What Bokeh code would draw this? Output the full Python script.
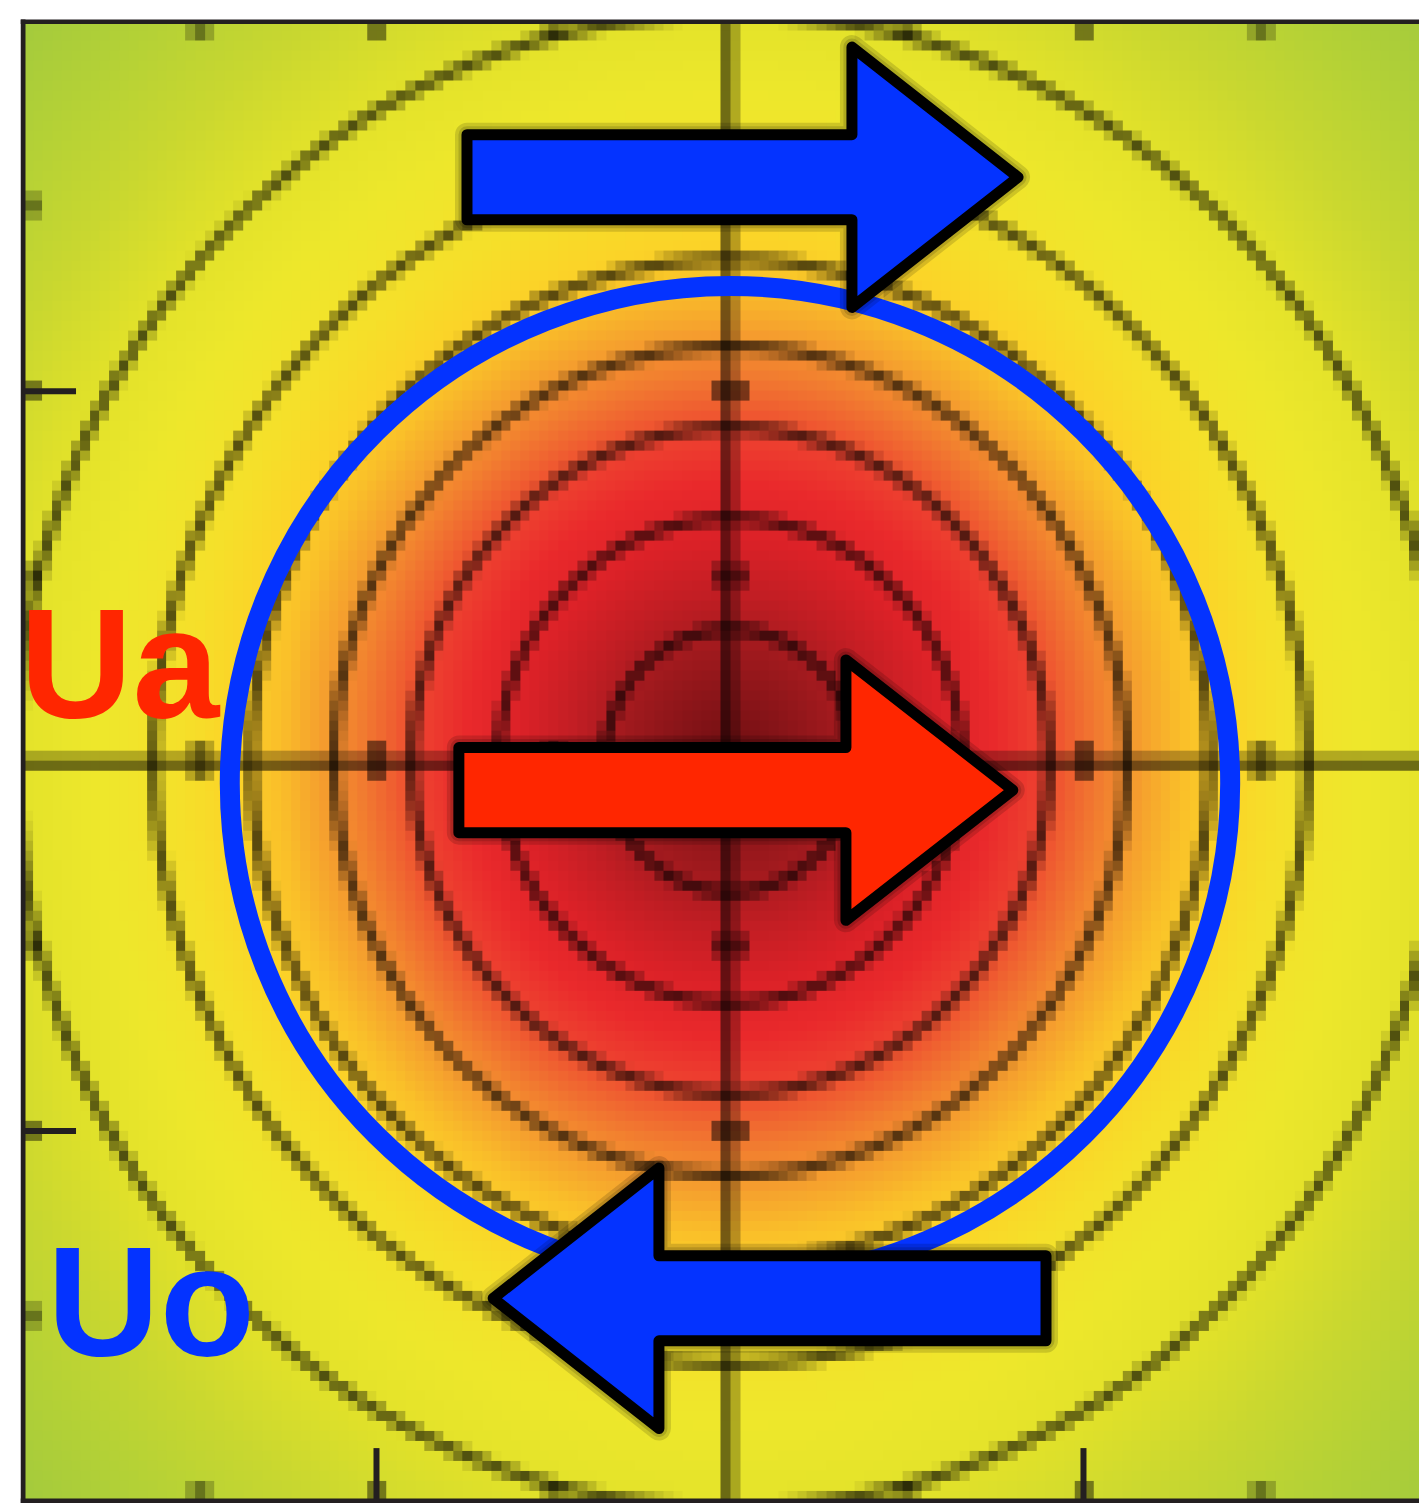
import numpy as np
from bokeh.plotting import figure
from bokeh.models import Range1d
from bokeh.core.properties import value
from bokeh.embed import file_html
from bokeh.resources import INLINE

# Radial colour stops of the field (radius in axis units -> colour)
field_radius = [0.0, 0.15, 0.30, 0.45, 0.60, 0.75, 0.88, 0.97, 1.05, 1.17,
                1.28, 1.40, 1.55, 1.80, 2.05, 2.30, 2.55, 2.85]
field_color = ["#6e0e10", "#861418", "#a01a1e", "#c21e24", "#dc2228", "#ea2a2c",
               "#ee4230", "#f06430", "#f27e30", "#f6a22e", "#fac02a", "#fcd428",
               "#f6e02a", "#eee82c", "#e2e22a", "#cad830", "#b6d236", "#a2ca3e"]

# Contour radii of the field
contour_radius = [0.355, 0.655, 0.90, 1.12, 1.355, 1.63, 2.02]

# Tick positions drawn into the raster, and the frame's major ticks
raster_ticks = [-1.5, -1.0, -0.5, 0.5, 1.0, 1.5]
major_ticks = [-1.0, 1.0]

# Circulation ring (centre, full width, full height)
ring_x = [0.0]
ring_y = [-0.06]
ring_w = [2.83]
ring_h = [2.69]

# Flow arrows: tail x, head-base x, tip x, centre y
arrow_tail = [-0.744, -0.767, 0.894]
arrow_base = [0.345, 0.328, -0.201]
arrow_tip = [0.815, 0.800, -0.670]
arrow_y = [1.579, -0.078, -1.452]
arrow_color = ["#0433ff", "#ff2600", "#0433ff"]

# Labels
label_text = ["Ua", "Uo"]
label_x = [-1.727, -1.638]
label_y = [0.266, -1.459]
label_color = ["#ff2600", "#0433ff"]

SHAFT_HALF = 0.115
HEAD_HALF = 0.352
TICK_LEN_X = 0.150
TICK_LEN_Y = 0.143
FRAME = "#231f20"


def hex_rgb(h):
    return [int(h[i:i + 2], 16) for i in (1, 3, 5)]


# ---- raster of the field, coarse cells with contours and axes burned in ----
N = 148
cell = 4.0 / N
centers = -2.0 + cell * (np.arange(N) + 0.5)
X, Y = np.meshgrid(centers, centers)
R = np.hypot(X, Y)
stops = np.array([hex_rgb(h) for h in field_color], dtype=float)
rgb = np.stack([np.interp(R, field_radius, stops[:, k]) for k in range(3)], axis=-1)

shade = np.ones((N, N))
for rc in contour_radius:
    cov = np.clip(1.08 - np.abs(R - rc) / cell, 0.0, 1.0)
    shade *= 1.0 - 0.64 * cov

# axes through the origin, two cells wide
shade[(X < 0) & (X > -cell)] *= 0.47
shade[(X > 0) & (X < cell)] *= 0.74
shade[(Y > 0) & (Y < cell)] *= 0.74
shade[(Y < 0) & (Y > -cell)] *= 0.47

# tick marks on the origin axes and along the edges
for t in raster_ticks:
    along_x = np.clip(1.5 - np.abs(X - t) / cell, 0.0, 1.0)
    along_y = np.clip(1.5 - np.abs(Y - t) / cell, 0.0, 1.0)
    shade *= 1.0 - 0.5 * along_x * (np.abs(Y) < 0.065)
    shade *= 1.0 - 0.5 * along_y * (np.abs(X) < 0.065)
    shade *= 1.0 - 0.45 * along_x * (np.abs(Y) > 2.0 - 0.055)
    shade *= 1.0 - 0.45 * along_y * (np.abs(X) > 2.0 - 0.055)

rgba = np.empty((N, N, 4), dtype=np.uint8)
rgba[..., :3] = np.clip(rgb * shade[..., None], 0, 255).astype(np.uint8)
rgba[..., 3] = 255
K = 6
big = np.ascontiguousarray(np.repeat(np.repeat(rgba, K, axis=0), K, axis=1))
img = big.view(np.uint32).reshape(N * K, N * K)

# ---- figure ----
x0, x1 = -2.00707, 1.95058
y0, y1 = -2.00676, 2.0054
p = figure(width=1419, height=1503,
           x_range=Range1d(x0, x1), y_range=Range1d(y0, y1),
           x_axis_location=None, y_axis_location=None,
           output_backend="svg", toolbar_location=None,
           min_border_left=20, min_border_right=0,
           min_border_top=19, min_border_bottom=0)
p.xgrid.visible = False
p.ygrid.visible = False
p.outline_line_color = None
p.border_fill_color = "white"
p.background_fill_color = "white"

p.image_rgba(image=[img], x=-2.0, y=-2.0, dw=4.0, dh=4.0)

# frame: left, top and bottom edges
p.segment(x0=[-2.0, -2.0, -2.0], y0=[-2.0, 2.0, -2.0],
          x1=[-2.0, x1, x1], y1=[2.0, 2.0, -2.0],
          line_color=FRAME, line_width=5, line_cap="square")
# major ticks pointing inward on the left and bottom edges
p.segment(x0=[-2.0] * len(major_ticks), y0=major_ticks,
          x1=[-2.0 + TICK_LEN_X] * len(major_ticks), y1=major_ticks,
          line_color=FRAME, line_width=6)
p.segment(x0=major_ticks, y0=[-2.0] * len(major_ticks),
          x1=major_ticks, y1=[-2.0 + TICK_LEN_Y] * len(major_ticks),
          line_color=FRAME, line_width=6)

p.ellipse(x=ring_x, y=ring_y, width=ring_w, height=ring_h,
          fill_color=None, line_color="#0433ff", line_width=20)

xs, ys = [], []
for tail, base, tip, yc in zip(arrow_tail, arrow_base, arrow_tip, arrow_y):
    xs.append([tail, base, base, tip, base, base, tail])
    ys.append([yc + SHAFT_HALF, yc + SHAFT_HALF, yc + HEAD_HALF, yc,
               yc - HEAD_HALF, yc - SHAFT_HALF, yc - SHAFT_HALF])

# soft halo under the arrows
for w in (24, 17):
    p.patches(xs=xs, ys=ys, fill_color=None, line_color="black",
              line_alpha=0.14, line_width=w, line_join="round")
p.patches(xs=xs, ys=ys, fill_color=arrow_color, line_color="black",
          line_width=11, line_join="round")

p.text(x=label_x, y=label_y, text=label_text, text_color=label_color,
       text_font=value("Liberation Sans"), text_font_style="bold",
       text_font_size="156px", text_align="center", text_baseline="alphabetic")

open("out.html", "w").write(file_html(p, INLINE))
